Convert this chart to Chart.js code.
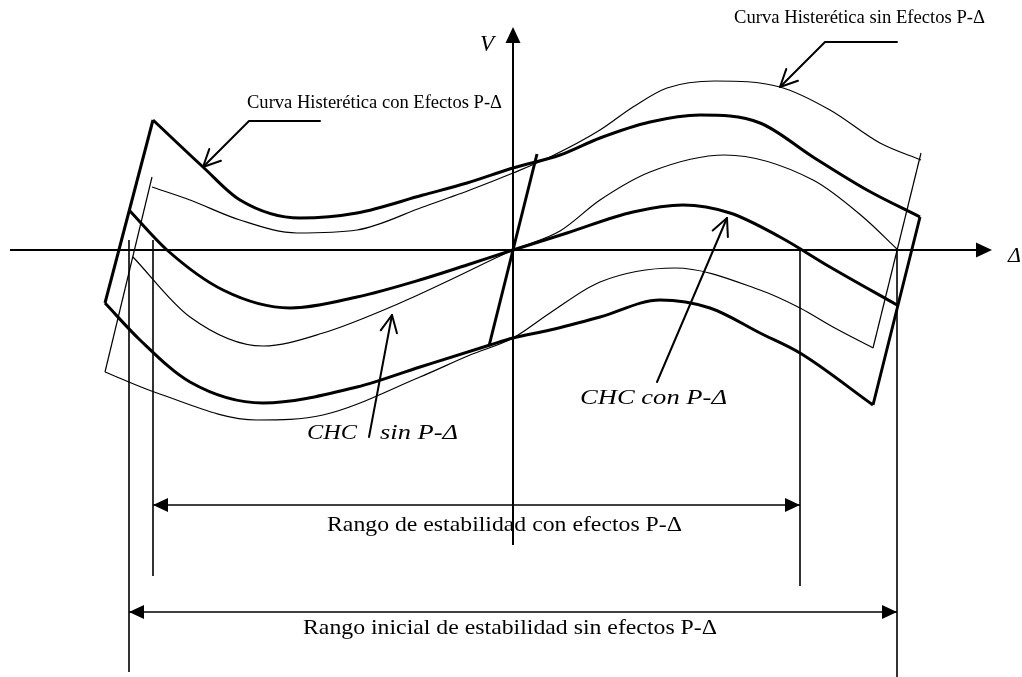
<!DOCTYPE html>
<html lang="es">
<head>
  <meta charset="UTF-8">
  <title>Curvas histeréticas con y sin efectos P-Δ</title>
  <script src="https://cdn.jsdelivr.net/npm/chart.js"></script>
  <style>
    body { margin: 0; background: #fff; }
  </style>
</head>
<body>
  <canvas id="chcChart" width="1022" height="677"></canvas>
  <script>
    // curves with P-Delta (bold)
    const boldUpperD = [-360, -310, -273, -213, -156, -90, -46, 0, 47, 87, 137, 187, 247, 300, 354, 407];
    const boldUpperV = [130, 83, 50, 32, 37, 55, 67, 82, 95, 112, 128, 135, 127, 93, 60, 33];
    const boldMiddleD = [-384, -346, -290, -223, -156, -90, -46, 0, 54, 120, 170, 217, 267, 317, 384];
    const boldMiddleV = [40, 0, -40, -58, -47, -29, -15, 0, 17, 38, 45, 37, 13, -17, -55];
    const boldLowerD = [-408, -373, -323, -250, -156, -93, -23, 0, 37, 87, 147, 197, 247, 287, 360];
    const boldLowerV = [-53, -90, -132, -153, -137, -117, -95, -88, -80, -67, -50, -58, -83, -103, -155];
    const boldLeftD = [-408, -360], boldLeftV = [-53, 130];
    const boldRightD = [407, 360], boldRightV = [33, -155];
    const elasticD = [-24, 24], elasticV = [-96, 96];

    // curves without P-Delta (thin)
    const thinUpperD = [-361, -323, -273, -216, -156, -90, -43, 0, 37, 87, 120, 154, 202, 267, 317, 367, 408];
    const thinUpperV = [63, 50, 30, 17, 20, 43, 60, 77, 93, 120, 143, 162, 169, 163, 140, 107, 90];
    const thinMiddleD = [-380, -323, -250, -190, -113, -63, 0, 47, 87, 137, 212, 300, 350, 384];
    const thinMiddleV = [-7, -67, -96, -83, -53, -30, 0, 19, 50, 78, 95, 70, 33, 1];
    const thinLowerD = [-408, -356, -256, -190, -93, -43, 0, 37, 87, 162, 247, 287, 320, 360];
    const thinLowerV = [-122, -143, -170, -165, -127, -105, -88, -63, -32, -18, -40, -58, -77, -98];
    const thinLeftD = [-408, -361], thinLeftV = [-122, 73];
    const thinRightD = [360, 408], thinRightV = [-98, 97];

    // axes and stability ranges
    const axisDeltaD = [-503, 464], axisDeltaV = [0, 0];
    const axisVD = [0, 0], axisVV = [-295, 208];
    const guideD = [-384, -360, 287, 384];
    const guideTop = [10, 10, 0, 0];
    const guideBottom = [-422, -326, -336, -427];
    const rangeInner = [-360, 287], rangeInnerV = -255;
    const rangeOuter = [-384, 384], rangeOuterV = -362;

    const pts = (d, v) => d.map((x, i) => ({ x: x, y: v[i] }));

    function line(d, v, width, smooth) {
      return {
        data: pts(d, v),
        showLine: true,
        borderColor: '#000',
        borderWidth: width,
        pointRadius: 0,
        cubicInterpolationMode: smooth ? 'monotone' : 'default',
        tension: 0,
        fill: false
      };
    }

    const datasets = [
      line(boldUpperD, boldUpperV, 3, true),
      line(boldMiddleD, boldMiddleV, 3, true),
      line(boldLowerD, boldLowerV, 3, true),
      line(boldLeftD, boldLeftV, 3),
      line(boldRightD, boldRightV, 3),
      line(elasticD, elasticV, 3),
      line(thinUpperD, thinUpperV, 1.2, true),
      line(thinMiddleD, thinMiddleV, 1.2, true),
      line(thinLowerD, thinLowerV, 1.2, true),
      line(thinLeftD, thinLeftV, 1.2),
      line(thinRightD, thinRightV, 1.2),
      line(axisDeltaD, axisDeltaV, 2),
      line(axisVD, axisVV, 2),
      line(rangeInner, [rangeInnerV, rangeInnerV], 1.5),
      line(rangeOuter, [rangeOuterV, rangeOuterV], 1.5)
    ];
    guideD.forEach((d, i) => datasets.push(line([d, d], [guideTop[i], guideBottom[i]], 1.6)));

    const serif = '"Liberation Serif", "Times New Roman", serif';
    const notes = [
      { text: 'Curva Histerética con Efectos P-Δ', d: -266, v: 147, font: '18px ' + serif, w: 255 },
      { text: 'Curva Histerética sin Efectos P-Δ', d: 221, v: 232, font: '18px ' + serif, w: 251 },
      { text: 'V', d: -33, v: 205, font: 'italic 23px ' + serif },
      { text: 'Δ', d: 495, v: -6, font: 'italic 22px ' + serif },
      { text: 'CHC', d: -206, v: -183, font: 'italic 21px ' + serif, w: 50 },
      { text: 'sin P-Δ', d: -133, v: -183, font: 'italic 21px ' + serif, w: 78 },
      { text: 'CHC con P-Δ', d: 67, v: -148, font: 'italic 21px ' + serif, w: 147 },
      { text: 'Rango de estabilidad con efectos P-Δ', d: -186, v: -275, font: '22px ' + serif, w: 355 },
      { text: 'Rango inicial de estabilidad sin efectos P-Δ', d: -210, v: -378, font: '22px ' + serif, w: 414 }
    ];
    // leader lines: polyline ending with an open arrowhead
    const leaders = [
      [[-193, 129], [-264, 129], [-310, 83]],
      [[384, 208], [312, 208], [267, 163]],
      [[-144, -187], [-121, -65]],
      [[144, -132], [214, 32]]
    ];

    const sketchPlugin = {
      id: 'sketch',
      afterDatasetsDraw(chart) {
        const ctx = chart.ctx;
        const sx = chart.scales.x, sy = chart.scales.y;
        const px = d => sx.getPixelForValue(d);
        const py = v => sy.getPixelForValue(v);
        ctx.save();
        ctx.fillStyle = '#000';
        ctx.strokeStyle = '#000';

        function solidHead(x, y, ang, len, half) {
          ctx.beginPath();
          ctx.moveTo(x, y);
          ctx.lineTo(x - len * Math.cos(ang) - half * Math.sin(ang), y - len * Math.sin(ang) + half * Math.cos(ang));
          ctx.lineTo(x - len * Math.cos(ang) + half * Math.sin(ang), y - len * Math.sin(ang) - half * Math.cos(ang));
          ctx.closePath();
          ctx.fill();
        }

        // axis arrows
        solidHead(px(axisDeltaD[1]) + 15, py(0), 0, 16, 7.5);
        solidHead(px(0), py(axisVV[1]) - 15, -Math.PI / 2, 16, 7.5);
        // range arrows
        solidHead(px(rangeInner[0]), py(rangeInnerV), Math.PI, 15, 7);
        solidHead(px(rangeInner[1]), py(rangeInnerV), 0, 15, 7);
        solidHead(px(rangeOuter[0]), py(rangeOuterV), Math.PI, 15, 7);
        solidHead(px(rangeOuter[1]), py(rangeOuterV), 0, 15, 7);

        // leaders with open arrowheads
        ctx.lineWidth = 2;
        ctx.lineCap = 'round';
        leaders.forEach(pl => {
          ctx.beginPath();
          pl.forEach((p, i) => i ? ctx.lineTo(px(p[0]), py(p[1])) : ctx.moveTo(px(p[0]), py(p[1])));
          ctx.stroke();
          const a = pl[pl.length - 2], b = pl[pl.length - 1];
          const tx = px(b[0]), ty = py(b[1]);
          const ang = Math.atan2(ty - py(a[1]), tx - px(a[0]));
          ctx.beginPath();
          [-0.45, 0.45].forEach(o => {
            ctx.moveTo(tx, ty);
            ctx.lineTo(tx - 19 * Math.cos(ang + o), ty - 19 * Math.sin(ang + o));
          });
          ctx.stroke();
        });

        // texts
        ctx.textBaseline = 'middle';
        ctx.textAlign = 'left';
        notes.forEach(n => {
          ctx.font = n.font;
          const k = n.w ? n.w / ctx.measureText(n.text).width : 1;
          ctx.save();
          ctx.translate(px(n.d), py(n.v));
          ctx.scale(k, 1);
          ctx.fillText(n.text, 0, 0);
          ctx.restore();
        });
        ctx.restore();
      }
    };

    new Chart(document.getElementById('chcChart').getContext('2d'), {
      type: 'scatter',
      data: { datasets: datasets },
      options: {
        responsive: false,
        animation: false,
        layout: { padding: 0 },
        plugins: { legend: { display: false }, tooltip: { enabled: false } },
        scales: {
          x: { type: 'linear', min: -513, max: 509, display: false },
          y: { type: 'linear', min: -427, max: 250, display: false }
        }
      },
      plugins: [sketchPlugin]
    });
  </script>
</body>
</html>
